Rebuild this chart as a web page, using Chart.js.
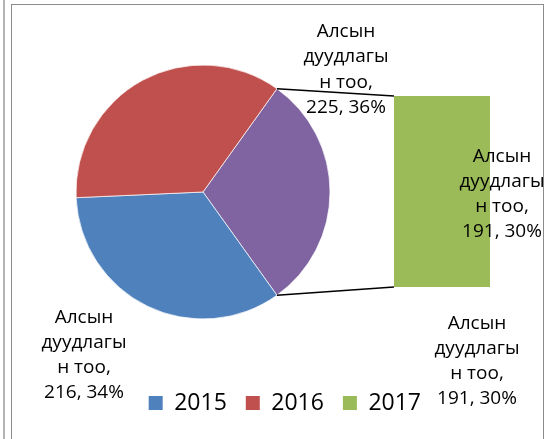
<!DOCTYPE html>
<html>
<head>
<meta charset="utf-8">
<script src="https://cdn.jsdelivr.net/npm/chart.js@4.4.1/dist/chart.umd.min.js"></script>
<style>
  html, body { margin: 0; padding: 0; background: #fff; width: 555px; height: 439px; overflow: hidden; position: relative; }
  #marco1 { position: absolute; left: 3px; top: 0; width: 0; height: 439px; border-left: 2px solid #b4b4b4; }
  #marco2 { position: absolute; left: 11px; top: 4px; width: 531px; height: 440px; border: 1px solid #8c8c8c; border-bottom: none; }
  #barra { position: absolute; left: 394px; top: 96px; }
  #pastel { position: absolute; left: -34px; top: 0; }
</style>
</head>
<body>
<div id="marco1"></div>
<div id="marco2"></div>
<canvas id="barra" width="96" height="191"></canvas>
<canvas id="pastel" width="604" height="439"></canvas>
<script>
// DATOS
const anios = ['2015', '2016', '2017'];
const llamadas = [216, 225, 191];
const lineasEtiqueta = ['Алсын', 'дуудлагы', 'н тоо,'];
const colores = ['#4F81BD', '#C0504D', '#9BBB59'];
const colorOtros = '#8064A2';

const total = llamadas.reduce((a, b) => a + b, 0);
// el pastel empieza con la porcion "otros" (2017) que se abre en la barra
const ordenPastel = [2, 0, 1];
const datosPastel = ordenPastel.map(i => llamadas[i]);
const coloresPastel = [colorOtros, colores[0], colores[1]];
const rotacion = 90 - (llamadas[2] / total) * 180;

// posiciones de las etiquetas (pagina)
const posEtiquetas = [
  { serie: 0, x: 84, y: 322.5 },
  { serie: 1, x: 346, y: 37 },
  { serie: 2, x: 502, y: 161.5 },
  { serie: 2, x: 477, y: 328.5 }
];

function textoEtiqueta(i) {
  const pct = Math.round(llamadas[i] / total * 100);
  return [...lineasEtiqueta, `${llamadas[i]}, ${pct}%`];
}

Chart.defaults.font.family = '"Open Sans", sans-serif';
Chart.defaults.color = '#000';

// BARRA
const graficoBarra = new Chart(document.getElementById('barra'), {
  type: 'bar',
  data: {
    labels: [anios[2]],
    datasets: [{ data: [llamadas[2]], backgroundColor: colores[2], barPercentage: 1, categoryPercentage: 1 }]
  },
  options: {
    responsive: false,
    animation: false,
    layout: { padding: 0 },
    scales: {
      x: { display: false },
      y: { display: false, min: 0, max: llamadas[2] }
    },
    plugins: { legend: { display: false }, tooltip: { enabled: false } }
  }
});

const conectores = {
  id: 'conectores',
  afterDraw(chart) {
    const ctx = chart.ctx;
    const despX = chart.canvas.offsetLeft;
    const arco = chart.getDatasetMeta(0).data[0];
    const el = graficoBarra.getDatasetMeta(0).data[0];
    const bx = graficoBarra.canvas.offsetLeft + el.x - el.width / 2 - despX;
    const arriba = graficoBarra.canvas.offsetTop + el.y;
    const abajo = graficoBarra.canvas.offsetTop + el.base;

    ctx.save();
    ctx.strokeStyle = '#000';
    ctx.lineWidth = 1.5;
    [[arco.startAngle, arriba], [arco.endAngle, abajo]].forEach(([ang, yb]) => {
      ctx.beginPath();
      ctx.moveTo(arco.x + arco.outerRadius * Math.cos(ang), arco.y + arco.outerRadius * Math.sin(ang));
      ctx.lineTo(bx, yb);
      ctx.stroke();
    });

    ctx.fillStyle = '#000';
    ctx.font = '19px "Open Sans"';
    ctx.textAlign = 'center';
    ctx.textBaseline = 'alphabetic';
    posEtiquetas.forEach(p => {
      textoEtiqueta(p.serie).forEach((linea, k) => {
        ctx.fillText(linea, p.x - despX, p.y + k * 25.3);
      });
    });
    ctx.restore();
  }
};

// PASTEL
const graficoPastel = new Chart(document.getElementById('pastel'), {
  type: 'pie',
  data: {
    labels: ordenPastel.map(i => anios[i]),
    datasets: [{
      data: datosPastel,
      backgroundColor: coloresPastel,
      borderColor: 'rgba(255,255,255,0.7)',
      borderWidth: 1
    }]
  },
  options: {
    responsive: false,
    animation: false,
    rotation: rotacion,
    radius: 127,
    layout: { padding: { left: 0, right: 130, top: 11.5, bottom: 14.5 } },
    plugins: {
      tooltip: { enabled: false },
      legend: {
        position: 'bottom',
        align: 'end',
        labels: {
          boxWidth: 14,
          boxHeight: 14,
          padding: 19,
          color: '#000',
          font: { size: 23 },
          generateLabels: () => anios.map((a, i) => ({
            text: a, fillStyle: colores[i], strokeStyle: colores[i], lineWidth: 0, hidden: false, index: i
          }))
        }
      }
    }
  },
  plugins: [conectores]
});
</script>
</body>
</html>
